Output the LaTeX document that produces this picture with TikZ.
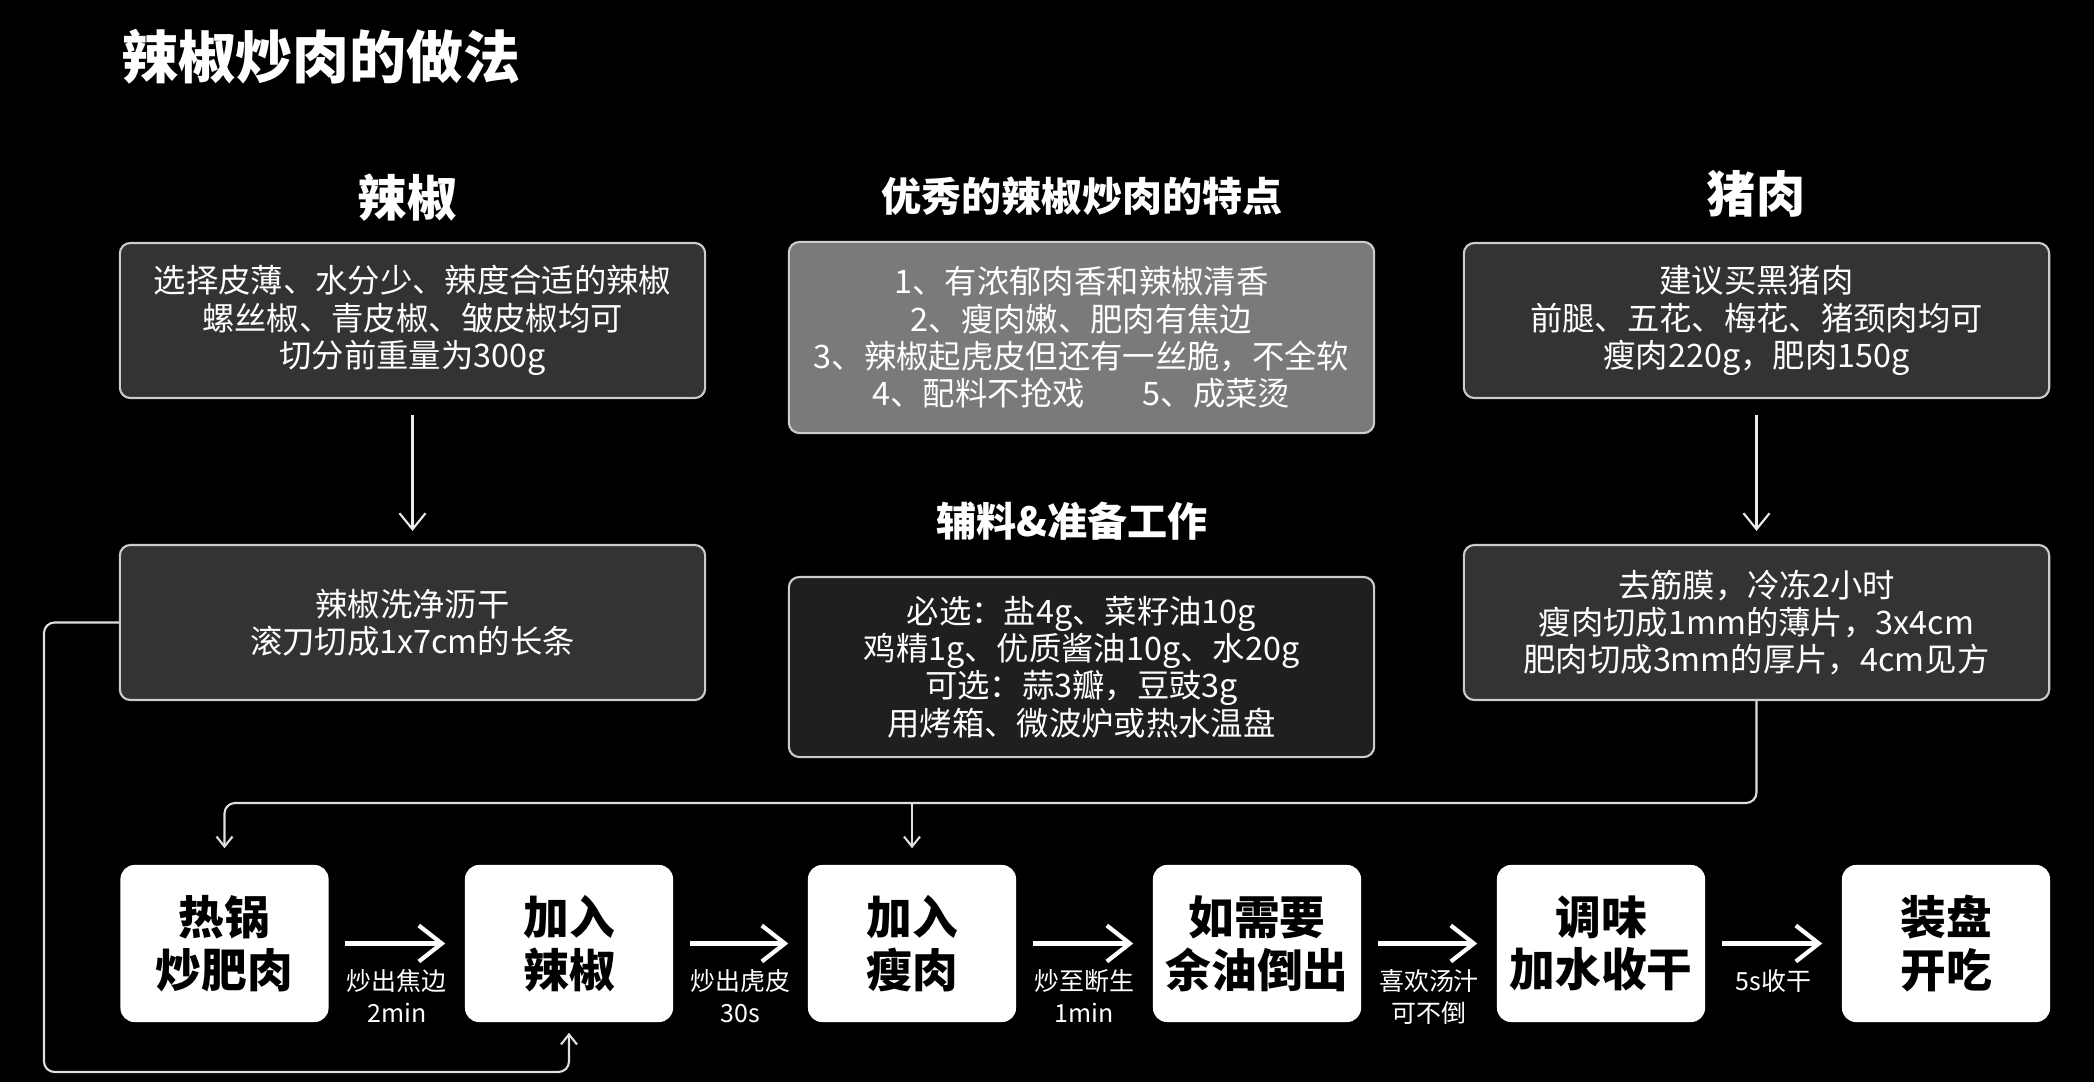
\documentclass[tikz,border=0pt]{standalone}
\usepackage{fontspec}
\setmainfont{Noto Sans CJK SC}
\usetikzlibrary{arrows.meta,calc}

\begin{document}
\begin{tikzpicture}[x=0.01cm,y=-0.01cm,
  every node/.style={font=\fontsize{9.2}{10.6}\selectfont,text=white},
  box/.style={draw=gray!40,line width=0.6pt,rounded corners=3pt,fill=black!80,align=center,
    minimum width=5.85cm,minimum height=1.55cm,inner sep=0pt},
  hdr/.style={font=\bfseries\fontsize{11.4}{13}\selectfont},
  bighdr/.style={font=\bfseries\fontsize{14}{16}\selectfont},
  stepbox/.style={fill=white,rounded corners=4pt,minimum width=2.08cm,minimum height=1.57cm,
    align=center,text=black,font=\bfseries\fontsize{13}{15}\selectfont},
  lbl/.style={anchor=north,yshift=-2.4mm,inner sep=0pt,align=center,font=\fontsize{7.1}{9.1}\selectfont},
  flow/.style={-{Straight Barb[length=2.3mm,width=3.6mm]},line width=1.2pt,white,
    shorten <=1.6mm,shorten >=1.9mm},
  down/.style={-{Straight Barb[length=1.6mm,width=2.6mm]},line width=0.6pt,gray!15},
  link/.style={-{Straight Barb[length=1mm,width=1.6mm]},line width=0.6pt,gray!25,rounded corners=3pt}]
 \fill[black] (0,0) rectangle (2094,1082);
 \useasboundingbox (0,0) rectangle (2094,1082);
 \node[anchor=west,font=\bfseries\fontsize{16.2}{18}\selectfont] (title) at (109,57) {辣椒炒肉的做法};
 % three columns
 \node[bighdr] (hpep) at (407,198) {辣椒};
 \node[hdr] (hfeat) at (1082,196) {优秀的辣椒炒肉的特点};
 \node[bighdr] (hpork) at (1756,194) {猪肉};
 \node[box] (pep1) at (412.5,320.5) {选择皮薄、水分少、辣度合适的辣椒\\螺丝椒、青皮椒、皱皮椒均可\\切分前重量为300g};
 \node[box] (pep2) at (412.5,622.5) {辣椒洗净沥干\\滚刀切成1x7cm的长条};
 \node[box,fill=black!52,minimum height=1.91cm] (feat) at (1081.5,337.5)
   {1、有浓郁肉香和辣椒清香\\2、瘦肉嫩、肥肉有焦边\\3、辣椒起虎皮但还有一丝脆，不全软\\4、配料不抢戏\hspace{1.8em}5、成菜烫};
 \node[hdr] (hprep) at (1072,521) {辅料\&准备工作};
 \node[box,fill=black!88,minimum height=1.8cm] (prep) at (1081.5,667)
   {必选：盐4g、菜籽油10g\\鸡精1g、优质酱油10g、水20g\\可选：蒜3瓣，豆豉3g\\用烤箱、微波炉或热水温盘};
 \node[box] (pork1) at (1756.5,320.5) {建议买黑猪肉\\前腿、五花、梅花、猪颈肉均可\\瘦肉220g，肥肉150g};
 \node[box] (pork2) at (1756.5,622.5) {去筋膜，冷冻2小时\\瘦肉切成1mm的薄片，3x4cm\\肥肉切成3mm的厚片，4cm见方};
 \draw[down] ([yshift=-1.6mm]pep1.south) -- ([yshift=1.3mm]pep2.north);
 \draw[down] ([yshift=-1.6mm]pork1.south) -- ([yshift=1.3mm]pork2.north);
 % cooking steps
 \node[stepbox] (s1) at (224.5,943.5) {热锅\\炒肥肉};
 \node[stepbox] (s2) at (569,943.5) {加入\\辣椒};
 \node[stepbox] (s3) at (912,943.5) {加入\\瘦肉};
 \node[stepbox] (s4) at (1257,943.5) {如需要\\余油倒出};
 \node[stepbox] (s5) at (1601,943.5) {调味\\加水收干};
 \node[stepbox] (s6) at (1946,943.5) {装盘\\开吃};
 \foreach \a/\b/\t in {s1/s2/{炒出焦边\\2min},s2/s3/{炒出虎皮\\30s},s3/s4/{炒至断生\\1min},
   s4/s5/{喜欢汤汁\\可不倒},s5/s6/{5s收干}}
   \draw[flow] (\a.east) -- node[lbl] {\t} (\b.west);
 \coordinate (lowrail) at (44,1072);
 \coordinate (rail) at (224.5,803);
 \draw[link] (pep2.west) -| (lowrail) -| ([yshift=-1mm]s2.south);
 \draw[link] (pork2.south) |- (rail) -- ([yshift=1.6mm]s1.north);
 \draw[link] (s3.north |- rail) -- ([yshift=1.6mm]s3.north);
\end{tikzpicture}
\end{document}
